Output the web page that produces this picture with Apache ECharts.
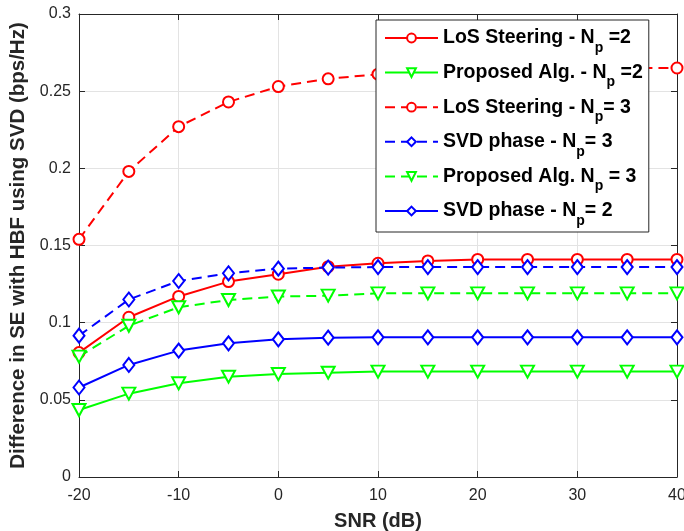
<!DOCTYPE html>
<html><head><meta charset="utf-8">
<script src="https://cdn.jsdelivr.net/npm/echarts@6/dist/echarts.min.js"></script>
<style>html,body{margin:0;padding:0;background:#fff}#c{width:684px;height:531px}</style>
</head><body><div id="c"></div>
<script>
const snr = [-20,-15,-10,-5,0,5,10,15,20,25,30,35,40];
const losNp2 = [0.0806,0.1035,0.117,0.1266,0.1314,0.1363,0.1385,0.140,0.141,0.141,0.141,0.141,0.141];
const propNp2 = [0.0434,0.054,0.0607,0.065,0.0667,0.0676,0.0683,0.0683,0.0683,0.0683,0.0683,0.0683,0.0683];
const losNp3 = [0.154,0.198,0.227,0.243,0.253,0.258,0.261,0.262,0.263,0.264,0.264,0.265,0.265];
const svdNp3 = [0.0916,0.115,0.127,0.132,0.135,0.1357,0.136,0.136,0.136,0.136,0.136,0.136,0.136];
const propNp3 = [0.078,0.098,0.110,0.1147,0.1169,0.1175,0.119,0.119,0.119,0.119,0.119,0.119,0.119];
const svdNp2 = [0.058,0.0726,0.0819,0.0866,0.0892,0.0903,0.0905,0.0905,0.0905,0.0905,0.0905,0.0905,0.0905];
const xTicks = [-20,-10,0,10,20,30,40];
const yTicks = [0,0.05,0.1,0.15,0.2,0.25,0.3];

const legendNames = {
  'LoS Steering - Np =2': 'LoS Steering - N{sub|p} =2',
  'Proposed Alg. - Np =2': 'Proposed Alg. - N{sub|p} =2',
  'LoS Steering - Np= 3': 'LoS Steering - N{sub|p}= 3',
  'SVD phase - Np= 3': 'SVD phase - N{sub|p}= 3',
  'Proposed Alg. Np = 3': 'Proposed Alg. N{sub|p} = 3',
  'SVD phase - Np= 2': 'SVD phase - N{sub|p}= 2'
};
function pairs(arr){ return snr.map((x,i)=>[x,arr[i]]); }
function mk(name, data, color, dashed, symbol, rotate){
  return {
    name, type:'line', data: pairs(data),
    symbol, symbolSize: symbol==='emptyCircle'?11:(symbol==='emptyDiamond'?[11,14]:[13,12]), symbolRotate: rotate||0,
    lineStyle:{color, width:2, type: dashed?[10,6]:'solid'},
    itemStyle:{color, borderColor:color, borderWidth:2},
    emphasis:{disabled:true}, animation:false, z: 3
  };
}
const axisCol = '#262626';
const tickLbl = {fontFamily:'Liberation Sans',fontSize:16,color:axisCol};
const chart = echarts.init(document.getElementById('c'));
chart.setOption({
  animation:false,
  grid:{left:79,right:7,top:14,bottom:54,show:false,containLabel:false,outerBoundsMode:'none'},
  xAxis:[{type:'value',min:-20,max:40,interval:10,
    name:'SNR (dB)',nameLocation:'middle',nameGap:34,
    nameTextStyle:{fontFamily:'Liberation Sans',fontWeight:'bold',fontSize:20,color:axisCol},
    axisLine:{onZero:false,lineStyle:{color:axisCol}},
    axisTick:{inside:true,length:6,lineStyle:{color:axisCol}},
    axisLabel:Object.assign({margin:11},tickLbl),
    splitLine:{lineStyle:{color:'#e3e3e3',width:1}}},
   {type:'value',position:'top',min:-20,max:40,interval:10,
    axisLine:{onZero:false,lineStyle:{color:axisCol}},
    axisTick:{inside:true,length:6,lineStyle:{color:axisCol}},
    axisLabel:{show:false},splitLine:{show:false}}],
  yAxis:[{type:'value',min:0,max:0.3,interval:0.05,
    name:'Difference in SE with HBF using SVD (bps/Hz)',nameLocation:'middle',nameGap:43,
    nameTextStyle:{fontFamily:'Liberation Sans',fontWeight:'bold',fontSize:20.5,color:axisCol},
    axisLine:{onZero:false,lineStyle:{color:axisCol}},
    axisTick:{inside:true,length:6,lineStyle:{color:axisCol}},
    axisLabel:Object.assign({margin:8,formatter:v=>String(parseFloat(v.toFixed(2)))},tickLbl),
    splitLine:{lineStyle:{color:'#e3e3e3',width:1}}},
   {type:'value',position:'right',min:0,max:0.3,interval:0.05,
    axisLine:{show:true,onZero:false,lineStyle:{color:axisCol}},
    axisTick:{show:true,inside:true,length:6,lineStyle:{color:axisCol}},
    axisLabel:{show:false},splitLine:{show:false}}],
  legend:{
    orient:'vertical',left:376,top:20,width:273,
    backgroundColor:'#fff',borderColor:axisCol,borderWidth:1,
    padding:[8,6,4,8],itemWidth:53,itemHeight:11,itemGap:7.6,
    formatter:n=>legendNames[n]||n,
    textStyle:{fontFamily:'Liberation Sans',fontWeight:'bold',fontSize:19.5,color:'#000',
      rich:{sub:{fontFamily:'Liberation Sans',fontWeight:'bold',fontSize:14,color:'#000',padding:[20,0,0,0]}}},
    data:['LoS Steering - Np =2','Proposed Alg. - Np =2','LoS Steering - Np= 3','SVD phase - Np= 3','Proposed Alg. Np = 3','SVD phase - Np= 2']
  },
  series:[
    mk('LoS Steering - Np =2', losNp2, '#ff0000', false, 'emptyCircle'),
    mk('Proposed Alg. - Np =2', propNp2, '#00ff00', false, 'emptyTriangle', 180),
    mk('LoS Steering - Np= 3', losNp3, '#ff0000', true, 'emptyCircle'),
    mk('SVD phase - Np= 3', svdNp3, '#0000ff', true, 'emptyDiamond'),
    mk('Proposed Alg. Np = 3', propNp3, '#00ff00', true, 'emptyTriangle', 180),
    mk('SVD phase - Np= 2', svdNp2, '#0000ff', false, 'emptyDiamond')
  ]
});
</script></body></html>
